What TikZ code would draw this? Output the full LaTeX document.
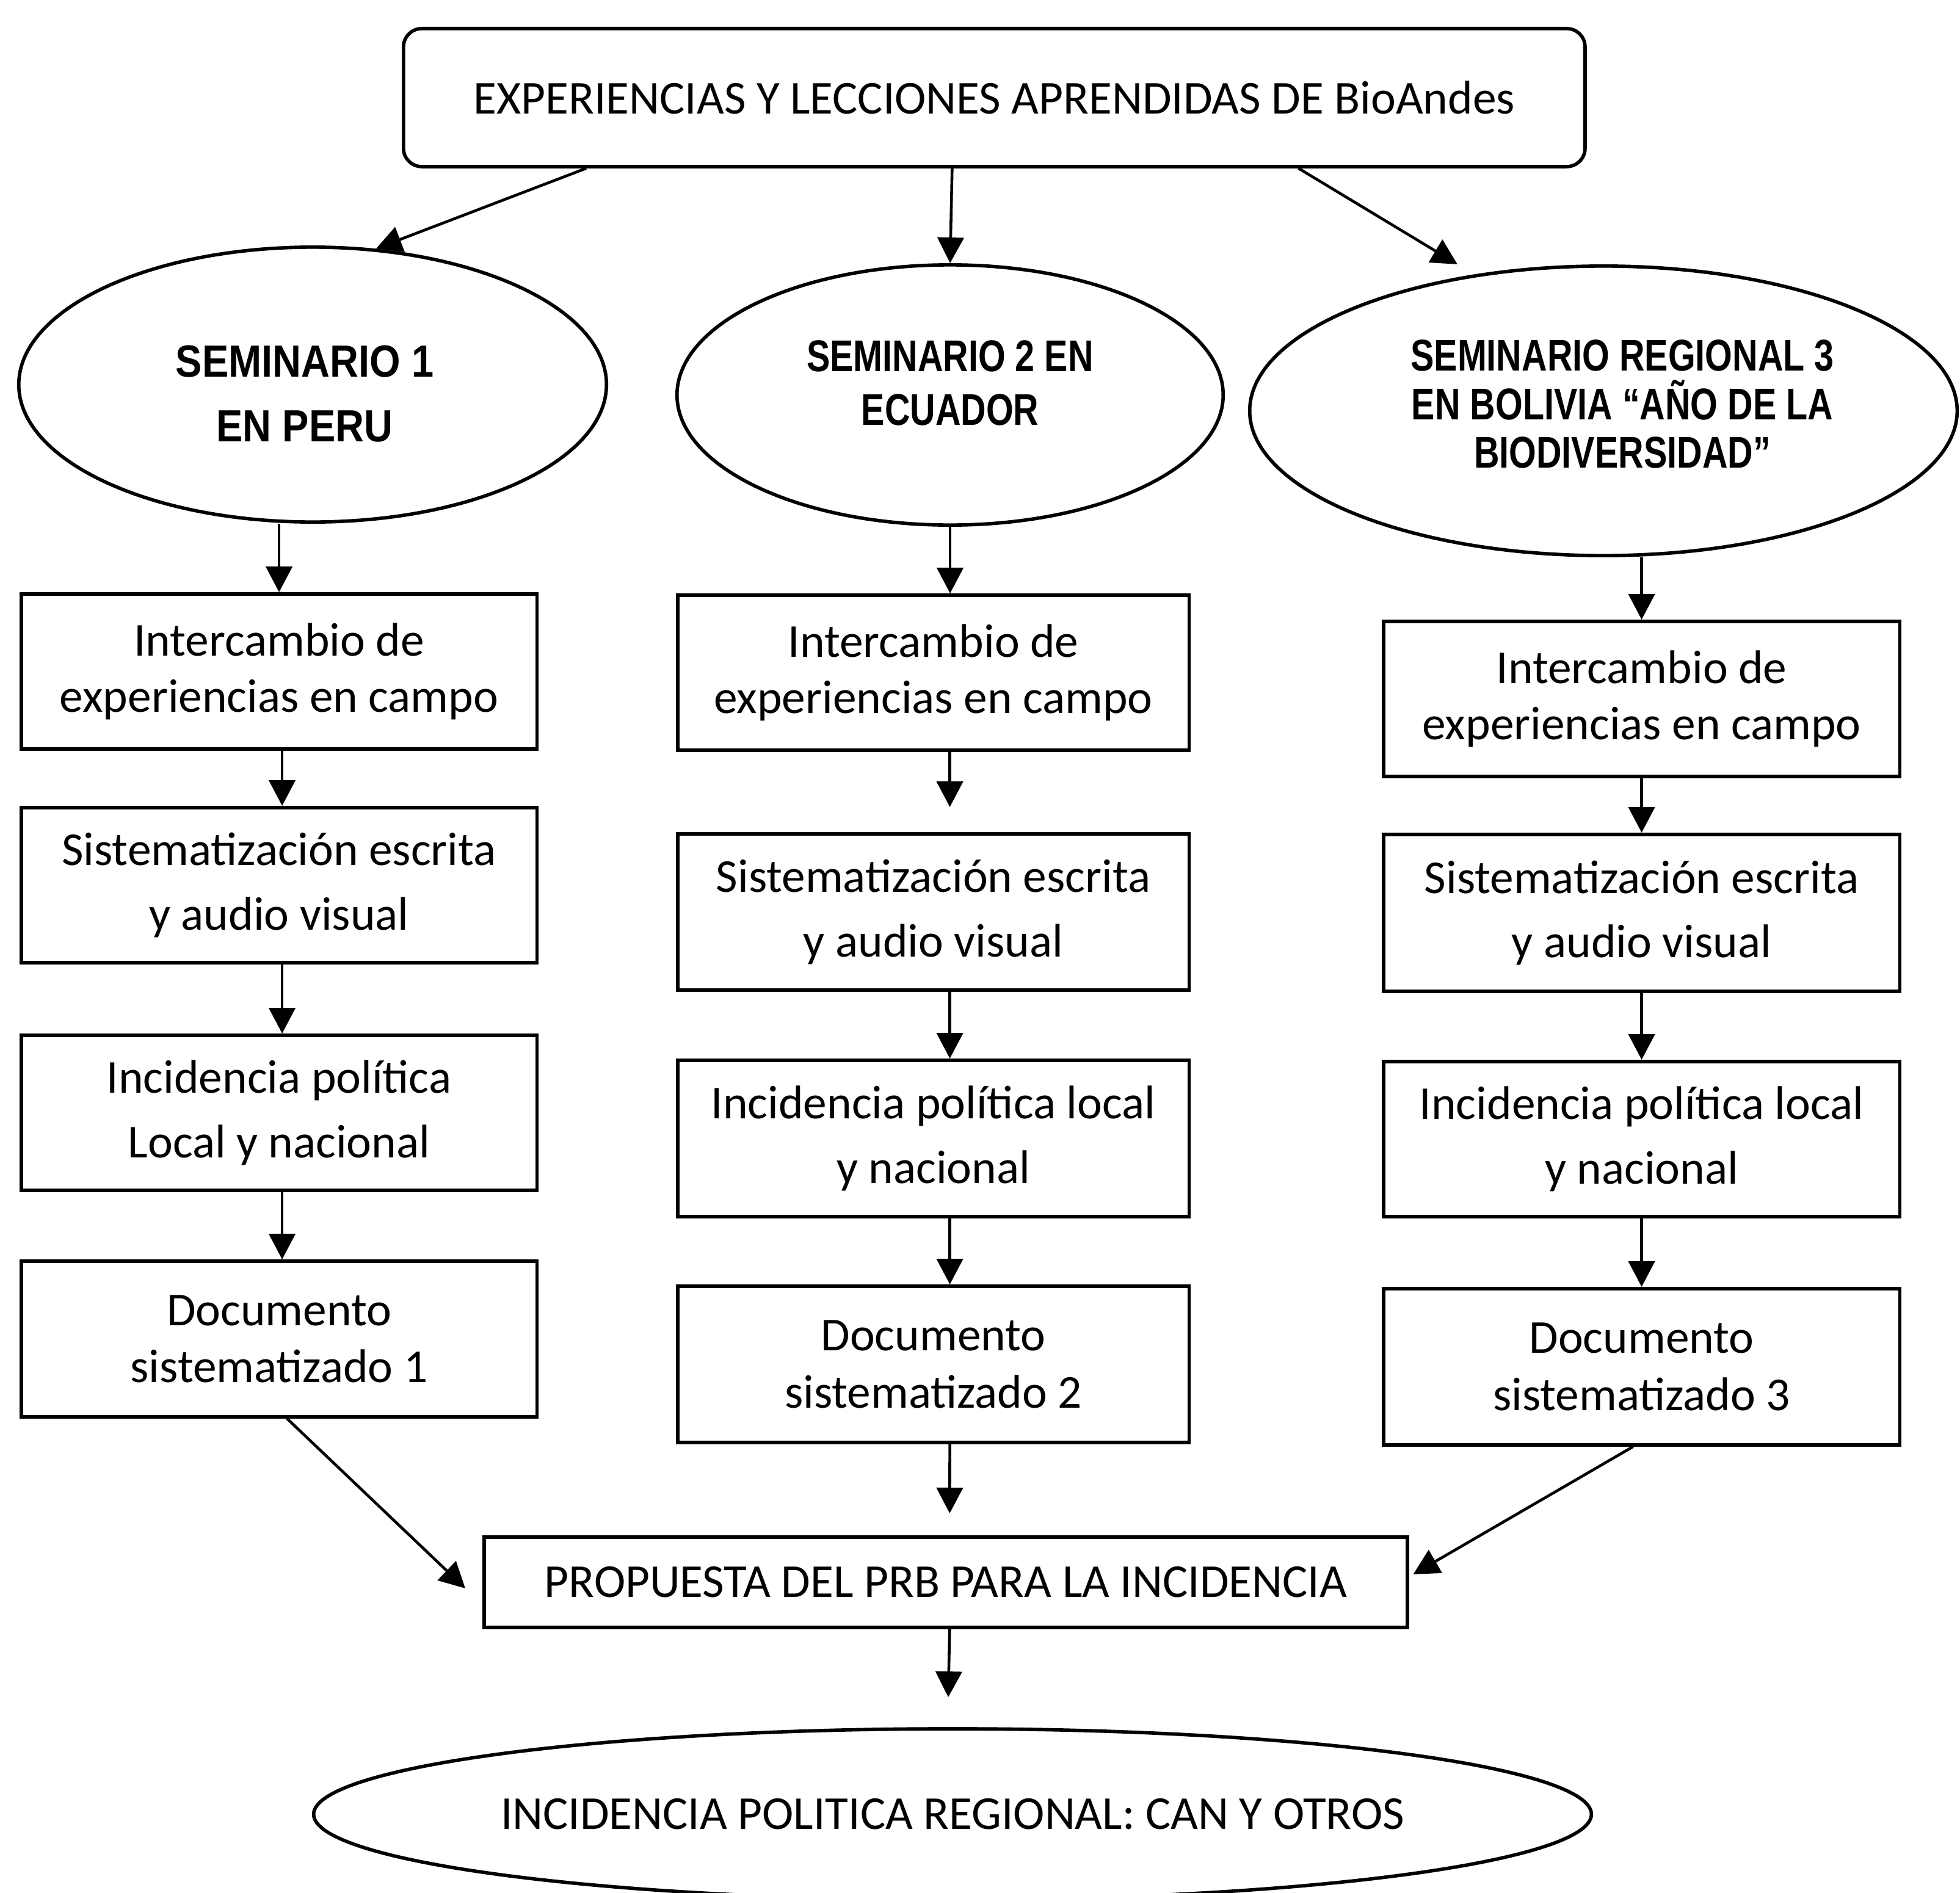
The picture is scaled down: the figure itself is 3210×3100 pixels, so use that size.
\documentclass[tikz,border=0pt]{standalone}
\usepackage{fontspec}
\setmainfont{Carlito}
\newfontfamily\semfont{Liberation Sans}[FakeStretch=0.79]
\newfontfamily\semfontb{Liberation Sans}[FakeStretch=0.88]
\usetikzlibrary{arrows.meta,shapes.geometric,calc}
\begin{document}
\begin{tikzpicture}[x=0.01cm,y=-0.01cm,
  shapeline/.style={draw=black,line width=1.6pt},
  box/.style n args={2}{shapeline,rectangle,inner sep=0pt,anchor=north west,align=center,
    minimum width=#1,minimum height=#2,font=\fontsize{22}{30}\selectfont},
  ell/.style n args={2}{shapeline,ellipse,inner sep=0pt,minimum width=#1,minimum height=#2},
  semtext/.style={align=center,inner sep=0pt},
  arr/.style={-{Triangle[width=0.43cm,length=0.42cm]},line width=1.3pt}]
\useasboundingbox (0,0) rectangle (3210,3100);

% top box
\node[shapeline,rectangle,rounded corners=0.3cm,anchor=north west,minimum width=19.34cm,minimum height=2.26cm,
  inner sep=0pt,font=\fontsize{22}{26}\selectfont] (top) at (658,44) {EXPERIENCIAS Y LECCIONES APRENDIDAS DE BioAndes};

% seminar ellipses
\node[ell={9.62cm}{4.50cm}] (e1) at (512,630) {};
\node[ell={8.94cm}{4.26cm}] (e2) at (1556,647) {};
\node[ell={11.58cm}{4.74cm}] (e3) at (2626,673) {};
\node[semtext,font=\semfontb\bfseries\fontsize{21}{30}\selectfont] (t1) at (499,645) {SEMINARIO 1\\EN PERU};
\node[semtext,font=\semfont\bfseries\fontsize{20.7}{25}\selectfont] (t2) at (1556,627) {SEMINARIO 2 EN\\ECUADOR};
\node[semtext,font=\semfont\bfseries\fontsize{20.7}{22.5}\selectfont] (t3) at (2657,662) {SEMINARIO REGIONAL 3\\EN BOLIVIA “AÑO DE LA\\BIODIVERSIDAD”};

% column 1
\node[box={8.44cm}{2.54cm},font=\fontsize{22}{26}\selectfont] (b1a) at (32,970) {Intercambio de\\experiencias en campo};
\node[box={8.44cm}{2.54cm}] (b1b) at (32,1320) {Sistematización escrita\\y audio visual};
\node[box={8.44cm}{2.54cm}] (b1c) at (32,1693) {Incidencia política\\Local y nacional};
\node[box={8.44cm}{2.55cm},font=\fontsize{22}{26.5}\selectfont] (b1d) at (32,2063) {Documento\\sistematizado 1};

% column 2
\node[box={8.37cm}{2.54cm},font=\fontsize{22}{26}\selectfont] (b2a) at (1107,972) {Intercambio de\\experiencias en campo};
\node[box={8.37cm}{2.56cm}] (b2b) at (1107,1363) {Sistematización escrita\\y audio visual};
\node[box={8.37cm}{2.56cm}] (b2c) at (1107,1734) {Incidencia política local\\y nacional};
\node[box={8.37cm}{2.56cm},font=\fontsize{22}{26.5}\selectfont] (b2d) at (1107,2104) {Documento\\sistematizado 2};

% column 3
\node[box={8.45cm}{2.54cm},font=\fontsize{22}{26}\selectfont] (b3a) at (2263,1015) {Intercambio de\\experiencias en campo};
\node[box={8.45cm}{2.57cm}] (b3b) at (2263,1364) {Sistematización escrita\\y audio visual};
\node[box={8.45cm}{2.54cm}] (b3c) at (2263,1736) {Incidencia política local\\y nacional};
\node[box={8.45cm}{2.56cm},font=\fontsize{22}{26.5}\selectfont] (b3d) at (2263,2108) {Documento\\sistematizado 3};

% proposal and final ellipse
\node[box={15.11cm}{1.48cm},font=\fontsize{22}{26}\selectfont] (prop) at (790,2515) {PROPUESTA DEL PRB PARA LA INCIDENCIA};
\node[ell={20.80cm}{2.80cm},font=\fontsize{22}{26}\selectfont] (e4) at (1560,2972) {INCIDENCIA POLITICA REGIONAL: CAN Y OTROS};

% arrows from top
\draw[arr] ([xshift=-6.68cm]top.south) -- (e1.65);
\draw[arr] ([xshift=-0.69cm]top.south) -- (e2.north);
\draw[arr] ([xshift=4.98cm]top.south) -- ([xshift=-2.39cm,yshift=2.40cm]e3.center);

% column 1 arrows
\draw[arr] (e1.south -| b1a.north) -- (b1a.north);
\draw[arr] ([xshift=0.05cm]b1a.south) -- ([xshift=0.05cm]b1b.north);
\draw[arr] ([xshift=0.05cm]b1b.south) -- ([xshift=0.05cm]b1c.north);
\draw[arr] ([xshift=0.05cm]b1c.south) -- ([xshift=0.05cm]b1d.north);
\draw[arr] ([xshift=0.13cm]b1d.south) -- ([xshift=-0.28cm,yshift=-0.10cm]prop.west);

% column 2 arrows
\draw[arr] (e2.south) -- (e2.south |- b2a.north);
\draw[arr,shorten >=0.41cm] ([xshift=0.27cm]b2a.south) -- ([xshift=0.27cm]b2b.north);
\draw[arr] ([xshift=0.27cm]b2b.south) -- ([xshift=0.27cm]b2c.north);
\draw[arr] ([xshift=0.27cm]b2c.south) -- ([xshift=0.27cm]b2d.north);
\draw[arr,shorten >=0.36cm] ([xshift=0.27cm]b2d.south) -- ([xshift=0.065cm]prop.north);

% column 3 arrows
\draw[arr] (b3a.north |- e3.south) -- (b3a.north);
\draw[arr] (b3a.south) -- (b3b.north);
\draw[arr] (b3b.south) -- (b3c.north);
\draw[arr] (b3c.south) -- (b3d.north);
\draw[arr] ([xshift=-0.14cm]b3d.south) -- ([xshift=0.07cm,yshift=0.13cm]prop.east);

% to final
\draw[arr,shorten >=0.49cm] ([xshift=0.065cm]prop.south) -- ([xshift=-0.08cm]e4.north);
\end{tikzpicture}
\end{document}
